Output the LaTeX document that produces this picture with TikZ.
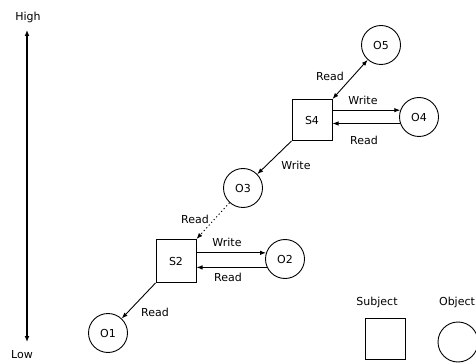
\documentclass[tikz,border=0pt]{standalone}
\usepackage{fontspec}
\setmainfont{DejaVu Sans}
\usetikzlibrary{arrows.meta}
\begin{document}
\begin{tikzpicture}[x=1pt,y=-1pt,
  every node/.style={font=\fontsize{11}{13}\selectfont},
  subj/.style={draw,line width=1pt,minimum width=40pt,minimum height=41pt,inner sep=0pt},
  obj/.style={draw,circle,line width=0.9pt,minimum size=39pt,inner sep=0pt},
  arr/.style={line width=0.9pt,-{Latex[length=6pt,width=4.5pt]}},
  lbl/.style={inner sep=0pt}]
\useasboundingbox (0,0) rectangle (476,363);
% axis
\node[lbl] (high) at (28,17) {High};
\node[lbl] (low) at (22,355) {Low};
\coordinate (atop) at (27,30);
\coordinate (abot) at (27,342);
\draw[line width=1.3pt,{Latex[length=6pt,width=5pt]}-{Latex[length=6pt,width=5pt]}] (atop) -- (abot);
% nodes
\node[obj] (O5) at (381,45) {O5};
\node[subj] (S4) at (312,120) {S4};
\node[obj] (O4) at (419,117) {O4};
\node[obj] (O3) at (243,188) {O3};
\node[subj,minimum height=43pt] (S2) at (176,261) {S2};
\node[obj] (O2) at (285,259) {O2};
\node[obj] (O1) at (108,333) {O1};
% connectors
\draw[line width=0.9pt,{Latex[length=6pt,width=4.5pt]}-{Latex[length=6pt,width=4.5pt]}] (S4.north east) -- (O5);
\draw[arr] (O4.160 -| S4.east) -- (O4.160);
\draw[arr] (O4.199) -- (O4.199 -| S4.east);
\draw[arr] (S4.south west) -- (O3);
\draw[arr,dash pattern=on 1.2pt off 2.5pt] (O3) -- (S2.north east);
\draw[arr] (O2.162 -| S2.east) -- (O2.162);
\draw[arr] (O2.205) -- (O2.205 -| S2.east);
\draw[arr] (S2.south west) -- (O1);
% labels
\node[lbl] (l1) at (330,76) {Read};
\node[lbl] (l2) at (363,100) {Write};
\node[lbl] (l3) at (364,140) {Read};
\node[lbl] (l4) at (296,165) {Write};
\node[lbl] (l5) at (195,219) {Read};
\node[lbl] (l6) at (227,242) {Write};
\node[lbl] (l7) at (228,277) {Read};
\node[lbl] (l8) at (155,312) {Read};
% legend
\node[lbl] (ls) at (377,302) {Subject};
\node[lbl] (lo) at (457,302) {Object};
\node[subj,minimum height=41pt] (LS) at (385,339) {};
\node[obj,minimum size=40pt] (LO) at (458,342) {};
\end{tikzpicture}
\end{document}
